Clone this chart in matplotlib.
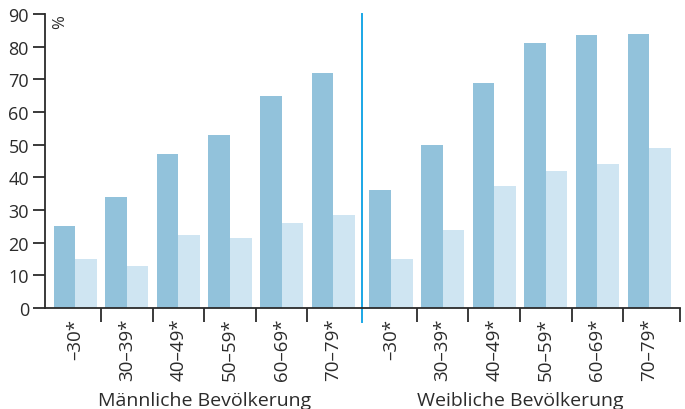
import numpy as np
import matplotlib
matplotlib.use('Agg')
import matplotlib.pyplot as plt
from matplotlib.transforms import blended_transform_factory

plt.rcParams['font.family'] = ['Open Sans', 'DejaVu Sans']

# data
age_groups = ['–30*', '30–39*', '40–49*', '50–59*', '60–69*', '70–79*']
men_dark = [25, 34, 47, 53, 65, 72]
men_light = [15, 13, 22.5, 21.5, 26, 28.5]
women_dark = [36, 50, 69, 81, 83.5, 84]
women_light = [15, 24, 37.5, 42, 44, 49]
group_labels = ['Männliche Bevölkerung', 'Weibliche Bevölkerung']

dark_col = '#92c2db'
light_col = '#cfe5f2'
line_col = '#1aa7e6'
ink = '#2b2b2b'

gap = 0.12
bw = 0.417
x_men = np.arange(6)
x_women = np.arange(6) + 6 + gap

fig = plt.figure(figsize=(6.85, 4.10), dpi=100)
ax = fig.add_axes([45/685, 101/410, 635/685, 294/410])

ax.bar(x_men - bw/2, men_dark, bw, color=dark_col, linewidth=0)
ax.bar(x_men + bw/2, men_light, bw, color=light_col, linewidth=0)
ax.bar(x_women - bw/2, women_dark, bw, color=dark_col, linewidth=0)
ax.bar(x_women + bw/2, women_light, bw, color=light_col, linewidth=0)

ax.set_xlim(-0.585, 11.72)
ax.set_ylim(0, 90)

for s in ['top', 'right']:
    ax.spines[s].set_visible(False)
for s in ['left', 'bottom']:
    ax.spines[s].set_color(ink)
    ax.spines[s].set_linewidth(1.3)

ax.set_yticks(np.arange(0, 91, 10))
ax.tick_params(axis='y', length=8.6, width=1.3, color=ink, labelsize=13,
               labelcolor=ink, pad=3)

# category labels at bar-group centres, separators as minor ticks
ax.set_xticks(np.concatenate([x_men, x_women]))
ax.set_xticklabels(age_groups + age_groups, rotation=90, va='top')
ax.tick_params(axis='x', which='major', length=0, labelsize=13.5,
               labelcolor=ink, pad=7)
seps = list(x_men[:-1] + 0.5) + list(x_women[:-1] + 0.5) + [11.72]
ax.set_xticks(seps, minor=True)
ax.tick_params(axis='x', which='minor', length=10, width=1.3, color=ink)

# divider between the two groups
div_x = 5.5 + gap / 2
ax.plot([div_x, div_x], [90, -4.3], color=line_col, linewidth=1.4,
        clip_on=False)

ax.text(-0.3, 90, '%', rotation=90, fontsize=12, color=ink,
        ha='center', va='top')

trans = blended_transform_factory(ax.transData, fig.transFigure)
ax.text(x_men.mean(), 0.0, group_labels[0], transform=trans, ha='center',
        va='bottom', fontsize=14, color=ink)
ax.text(x_women.mean(), 0.0, group_labels[1], transform=trans, ha='center',
        va='bottom', fontsize=14, color=ink)

fig.savefig('out.png', dpi=100)
